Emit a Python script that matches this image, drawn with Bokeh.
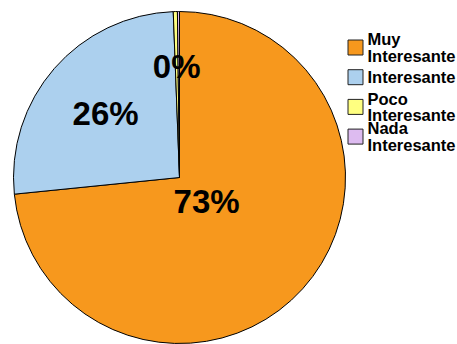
import math
from bokeh.plotting import figure
from bokeh.models import Range1d, ColumnDataSource
from bokeh.core.properties import value
from bokeh.embed import file_html
from bokeh.resources import INLINE

# ---- data ----
categories = ["Muy Interesante", "Interesante", "Poco Interesante", "Nada Interesante"]
legend_lines = [["Muy", "Interesante"], ["Interesante"], ["Poco", "Interesante"], ["Nada", "Interesante"]]
percentages = [73.4, 26.0, 0.4, 0.2]
colors = ["#F7981D", "#ACD0EE", "#FFFF80", "#DDBBF0"]
show_label = [True, True, True, False]
label_radius_frac = [0.22, 0.59, 0.67, 0.67]

W, H = 457, 344
p = figure(width=W, height=H, output_backend="svg", toolbar_location=None,
           x_range=Range1d(0, W), y_range=Range1d(0, H), min_border=0)
p.axis.visible = False
p.grid.visible = False
p.outline_line_color = None
p.background_fill_color = "white"
p.border_fill_color = "white"

cx, cy, R = 179, 344 - 177, 166

total = sum(percentages)
starts, ends, mids = [], [], []
cum = 0.0
for v in percentages:
    a0 = math.pi / 2 - 2 * math.pi * cum / total
    cum += v
    a1 = math.pi / 2 - 2 * math.pi * cum / total
    starts.append(a1)
    ends.append(a0)
    mids.append((a0 + a1) / 2)

src = ColumnDataSource(dict(start=starts, end=ends, color=colors))
p.wedge(x=cx, y=cy, radius=R, start_angle="start", end_angle="end", direction="anticlock",
        fill_color="color", line_color="black", line_width=1, source=src)

# percent labels
lx, ly, lt = [], [], []
for v, m, f, s in zip(percentages, mids, label_radius_frac, show_label):
    if not s:
        continue
    lx.append(cx + f * R * math.cos(m))
    ly.append(cy + f * R * math.sin(m))
    lt.append(f"{round(v)}%")
p.text(x=lx, y=ly, text=lt, text_align="center", text_baseline="middle",
       text_font=value("Liberation Sans"), text_font_style="bold", text_font_size="33px",
       text_color="black")

# legend
box_x = 355
row0 = 344 - 47
step = 29.7
bx, by, tx, ty, tt = [], [], [], [], []
for i, lines in enumerate(legend_lines):
    c = row0 - i * step
    bx.append(box_x)
    by.append(c)
    n = len(lines)
    for j, ln in enumerate(lines):
        tx.append(367)
        ty.append(c + (n - 1) * 8.3 - j * 16.6)
        tt.append(ln)
p.rect(x=bx, y=by, width=15, height=15, fill_color=colors, line_color="#222222", line_width=1)
p.text(x=tx, y=ty, text=tt, text_align="left", text_baseline="middle",
       text_font=value("Liberation Sans"), text_font_style="bold", text_font_size="16.5px",
       text_color="black")

open("out.html", "w").write(file_html(p, INLINE))
